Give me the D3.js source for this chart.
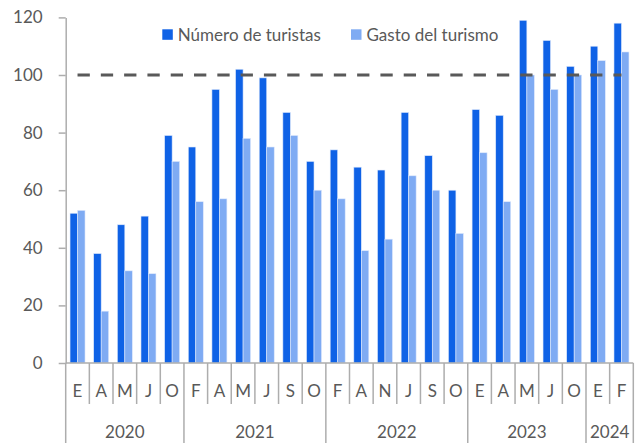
<!DOCTYPE html>
<html>
<head>
<meta charset="utf-8">
<script src="https://cdn.jsdelivr.net/npm/d3@7"></script>
<style>
  html, body { margin: 0; padding: 0; background: #fff; }
  svg { display: block; font-family: Lato, "Open Sans", sans-serif; }
</style>
</head>
<body>
<svg id="chart" width="637" height="443"></svg>
<script>
// Monthly index (100 = reference level), tourists vs. tourism spending
const months = ["E","A","M","J","O","F","A","M","J","S","O","F","A","N","J","S","O","E","A","M","J","O","E","F"];
const years  = ["2020","2020","2020","2020","2020",
                "2021","2021","2021","2021","2021","2021",
                "2022","2022","2022","2022","2022","2022",
                "2023","2023","2023","2023","2023",
                "2024","2024"];
const turistas = [52,38,48,51,79, 75,95,102,99,87,70, 74,68,67,87,72,60, 88,86,119,112,103, 110,118];
const gasto    = [53,18,32,31,70, 56,57,78,75,79,60, 57,39,43,65,60,45, 73,56,100,95,100, 105,108];
const seriesNames = ["Número de turistas", "Gasto del turismo"];
const yTicks = [0,20,40,60,80,100,120];
const reference = 100;

const colors = ["#0F62E6", "#7FABF3"];
const textColor = "#595959";
const axisColor = "#ADADAD";

const svg = d3.select("#chart");
const plotLeft = 65.7, plotRight = 633.3, plotTop = 17.4, plotBottom = 363;

const idx = d3.range(months.length);
const x = d3.scaleBand().domain(idx).range([plotLeft, plotRight]).paddingInner(0).paddingOuter(0);
const xs = d3.scaleBand().domain([0, 1]).range([0, x.bandwidth()]).paddingInner(0).paddingOuter(0.577);
const y = d3.scaleLinear().domain([0, 120]).range([plotBottom, plotTop]);

// Bars
const series = [turistas, gasto];
series.forEach((vals, s) => {
  svg.append("g").selectAll("rect").data(idx).join("rect")
    .attr("x", i => x(i) + xs(s))
    .attr("y", i => y(vals[i]))
    .attr("width", xs.bandwidth())
    .attr("height", i => y(0) - y(vals[i]))
    .attr("fill", colors[s])
    .attr("stroke", "#dfe9fc")
    .attr("stroke-width", 0.6);
});

// Reference line at 100
svg.append("line")
  .attr("x1", x(0) + x.bandwidth() / 2)
  .attr("x2", x(idx.length - 1) + x.bandwidth() / 2)
  .attr("y1", y(reference)).attr("y2", y(reference))
  .attr("stroke", "#595959").attr("stroke-width", 3)
  .attr("stroke-dasharray", "12.3,11");

// Y axis
const yAxis = svg.append("g")
  .attr("transform", `translate(${plotLeft},0)`)
  .call(d3.axisLeft(y).tickValues(yTicks).tickSize(7).tickPadding(16).tickSizeOuter(0));
yAxis.select(".domain").attr("stroke", axisColor).attr("stroke-width", 1.5);
yAxis.selectAll(".tick line").attr("stroke", axisColor).attr("stroke-width", 1.5);
yAxis.selectAll(".tick text").attr("fill", textColor).style("font-size", "17px").style("font-family", "Lato");

// X axis baseline
svg.append("line")
  .attr("x1", plotLeft).attr("x2", plotRight)
  .attr("y1", plotBottom).attr("y2", plotBottom)
  .attr("stroke", axisColor).attr("stroke-width", 1.5);

// Month separators (short) and year separators (long)
const boundaries = d3.range(months.length + 1);
svg.append("g").selectAll("line").data(boundaries).join("line")
  .attr("x1", b => plotLeft + b * x.step())
  .attr("x2", b => plotLeft + b * x.step())
  .attr("y1", plotBottom)
  .attr("y2", b => (b === 0 || b === months.length || years[b] !== years[b - 1]) ? 443 : 404)
  .attr("stroke", axisColor).attr("stroke-width", 1.5);

// Month labels
svg.append("g").selectAll("text").data(idx).join("text")
  .attr("x", i => x(i) + x.bandwidth() / 2)
  .attr("y", 397)
  .attr("text-anchor", "middle")
  .attr("fill", textColor)
  .style("font-size", "17px")
  .text(i => months[i]);

// Year labels, centred over their months
const yearGroups = d3.groups(idx, i => years[i]);
svg.append("g").selectAll("text").data(yearGroups).join("text")
  .attr("x", d => (x(d[1][0]) + x(d[1][d[1].length - 1]) + x.bandwidth()) / 2)
  .attr("y", 438)
  .attr("text-anchor", "middle")
  .attr("fill", textColor)
  .style("font-size", "17px")
  .text(d => d[0]);

// Legend
const legendPos = [162.3, 351];
seriesNames.forEach((name, s) => {
  svg.append("rect")
    .attr("x", legendPos[s]).attr("y", 29.3)
    .attr("width", 10.5).attr("height", 10.5)
    .attr("fill", colors[s]);
  svg.append("text")
    .attr("x", legendPos[s] + 15.5).attr("y", 40.5)
    .attr("fill", textColor)
    .style("font-size", "17px")
    .text(name);
});
</script>
</body>
</html>
